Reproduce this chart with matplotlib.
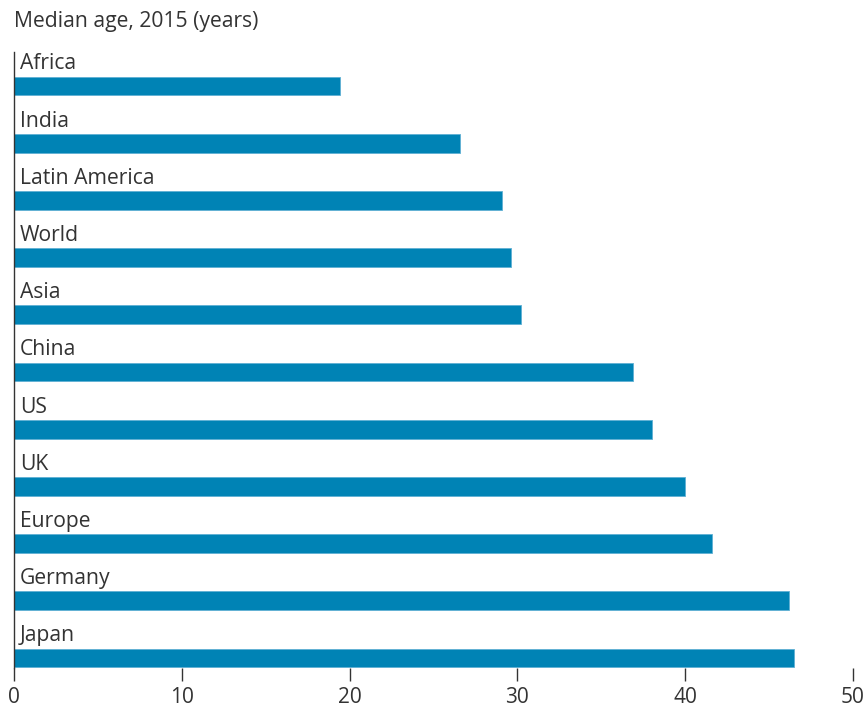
import matplotlib.pyplot as plt

# median age by region, 2015
regions = ['Africa', 'India', 'Latin America', 'World', 'Asia', 'China',
           'US', 'UK', 'Europe', 'Germany', 'Japan']
median_age = [19.4, 26.6, 29.1, 29.6, 30.2, 36.9, 38.0, 40.0, 41.6, 46.2, 46.5]
x_ticks = [0, 10, 20, 30, 40, 50]

plt.rcParams['font.family'] = ['Open Sans', 'DejaVu Sans']
text_col = '#333333'
bar_col = '#0083b5'

fig = plt.figure(figsize=(8.67, 7.09), dpi=100)
ax = fig.add_axes([14 / 867, 1 - 668 / 709, (853 - 14) / 867, (668 - 52) / 709])

pos = list(range(len(regions)))
ax.barh(pos, median_age, height=0.33, color=bar_col, edgecolor='#5fb0d4', linewidth=0.6)

# labels sit above each bar
for p, name in zip(pos, regions):
    ax.text(0.35, p - 0.29, name, fontsize=15.2, color=text_col, va='baseline', ha='left')

ax.set_xlim(0, 50)
ax.set_ylim(10.175, -0.594)
ax.set_xticks(x_ticks)
ax.set_xticklabels([str(t) for t in x_ticks], fontsize=15, color=text_col)
ax.set_yticks([])
ax.tick_params(axis='x', direction='out', length=9, width=1, color=text_col, pad=5)

for s in ['top', 'right', 'bottom']:
    ax.spines[s].set_visible(False)
ax.spines['left'].set_color(text_col)
ax.spines['left'].set_linewidth(1)

fig.text(14 / 867, 1 - 21 / 709, 'Median age, 2015 (years)', fontsize=15.2,
         color=text_col, va='center', ha='left')

plt.savefig('out.png', dpi=100)
plt.close()
